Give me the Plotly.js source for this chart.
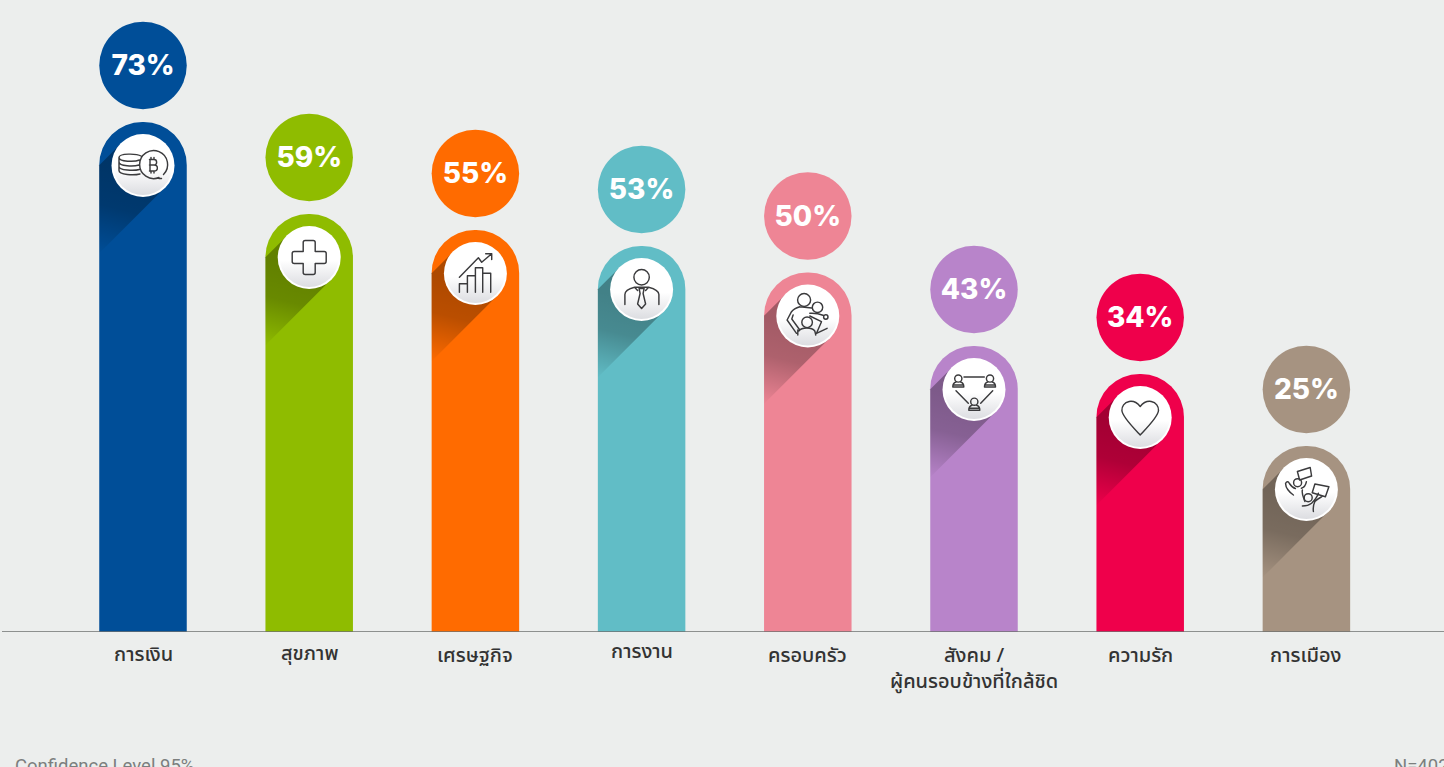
<!DOCTYPE html>
<html>
<head>
<meta charset="utf-8">
<script src="https://cdn.plot.ly/plotly-3.0.1.min.js"></script>
<style>html,body{margin:0;padding:0;background:#eceeed;overflow:hidden}#chart{width:1444px;height:767px}</style>
</head>
<body>
<div id="chart"></div>
<script>
const categories = ['การเงิน','สุขภาพ','เศรษฐกิจ','การงาน','ครอบครัว','สังคม /<br>ผู้คนรอบข้างที่ใกล้ชิด','ความรัก','การเมือง'];
const percentLabels = ['73%','59%','55%','53%','50%','43%','34%','25%'];
const barHeights = [510,418,402,386,359.5,286,258,186];
const barColors = ['#004e98','#8fbc00','#ff6b00','#61bdc6','#ee8595','#b884ca','#ef004b','#a69381'];
const footerLeft = 'Confidence Level 95%';
const footerRight = 'N=402';

const labelOffsets = [6,5,7,3,7,7,7,7];
const TH_FONT = 'Noto Sans, Noto Sans Thai, Loma, Garuda, Liberation Sans, DejaVu Sans, sans-serif';

const person = (x,y)=>`<circle cx="${x}" cy="${y}" r="3.6"/><path d="M${x-2.3} ${y+3.5}C${x-4} ${y+4} ${x-5.5} ${y+5} ${x-5.5} ${y+8.5}H${x+5.5}C${x+5.5} ${y+5} ${x+4} ${y+4} ${x+2.3} ${y+3.5}M${x-5} ${y+6.5}H${x+5}"/>`;
const icons = [
 `<path d="M-2 -9.5C-6 -12 -24 -12.5 -24 -8V5C-24 9.5 -9 10 -3 8.5M-24 -8C-24 -3.5 -8 -3.5 -3.5 -5.5M-24 -3.5C-24 1 -9 1 -4 -0.5M-24 1C-24 5 -9 5.5 -3.5 4M20.5 9A14 14 0 1 0 16 12M18.5 13A14 14 0 0 1 14.5 12.5M6.5 -6H11C14.5 -6 14.5 -0.5 11 -0.5H6.5M11 -0.5C15.5 -0.5 15.5 5.5 11 5.5H6.5M7 -6V5.5M8 -8V-6M11 -8V-6M8 5.5V7.5M11 5.5V7.5"/>`,
 `<path d="M-6 -15Q-6 -17 -4 -17H4Q6 -17 6 -15V-6H15Q17 -6 17 -4V4Q17 6 15 6H6V15Q6 17 4 17H-4Q-6 17 -6 15V6H-15Q-17 6 -17 4V-4Q-17 -6 -15 -6H-6Z"/>`,
 `<path d="M-16 3.7L3 -15.7L6.3 -11.3L16.3 -19.7M10.3 -19.7H16.3V-14M-16 18.7V10.3H-8V2.3H0V-5.7H7.3V-0.3H15.3V18.7M-8 10.3V18.7M0 2.3V18.7M7.3 -0.3V18.7"/>`,
 `<circle cx="0" cy="-12.3" r="7.7"/><path d="M-16.7 15V5C-16.7 1 -12 -1 -7 -2.3L-4 1M17.3 15V5C17.3 1 12 -1 7 -2.3L4 1M-7 -2.3H7M-2.5 -1H2.5L1.5 4L4 14.5L0 19L-4 14.5L-1.5 4Z"/>`,
 `<circle cx="-3.7" cy="-16" r="6.5"/><circle cx="9.7" cy="-8.7" r="5.2"/><circle cx="-0.7" cy="6.3" r="5.3"/><circle cx="18" cy="1" r="2.2"/><path d="M-8 -9.3C-12 -8 -15 -6 -16.3 -4.3L-20.7 4L-11.3 17.3M-14.7 -1L-16 3L-8 14M-8 -9.3L4 -8M2 -2.7C6 -3 12 -2 16 -0.5M2 0L13.7 5.7L8.7 17.3L19.3 12.3M-9 15C-6 11 4 11 7 15M-10 14L-10 19M7 15L8 19"/>`,
 person(-15.7,-11)+person(16,-11)+person(0.3,12.2)+`<path d="M-10 -12.5H10.3M-18 1.2L-5.7 13.8M18.7 1.2L6.7 13.8"/>`,
 `<path d="M0 -11C-4 -16 -8 -16.5 -11 -16C-16 -15 -18.5 -11 -18.3 -7C-18 -1 -8 9 0 17.5C8 9 18 -1 18.3 -7C18.5 -11 16 -15 11 -16C8 -16.5 4 -16 0 -11Z"/>`,
 `<path d="M-9 -18L3.8 -22L5.2 -13.5L-6.8 -9.5ZM8.5 -5.5L22.5 -2.8L19 7.2L5.8 3.2Z"/><circle cx="-8.8" cy="-6.8" r="4"/><circle cx="1.8" cy="8.2" r="4"/><path d="M-13 5.5C-17 3 -21 -2 -20.8 -6.2C-19.5 -8.5 -18 -8 -17 -6C-15 -3 -13 -1.5 -11 -1M-5 -1.2C-2 -2 -0.5 -5 0 -7.8M-4 0.5C-5 4 -3 8 -1.5 12M-4 16.5C0 16.5 3 15.5 5.2 13.8C8 11 11 7 12 3.8M7 22C6.5 18 7 15 8.5 12C11 9.5 14 8 15.7 7"/>`
];
function overlay(i){
  const id='s'+i;
  const svg=`<svg xmlns="http://www.w3.org/2000/svg" width="200" height="200" viewBox="-100 -100 200 200">
<defs>
<linearGradient id="${id}" gradientUnits="userSpaceOnUse" x1="-5" y1="10" x2="-25" y2="90"><stop offset="0" stop-color="#000" stop-opacity="0.32"/><stop offset="0.45" stop-color="#000" stop-opacity="0.27"/><stop offset="1" stop-color="#000" stop-opacity="0.02"/></linearGradient>
<linearGradient id="g${i}" x1="0" y1="0" x2="0" y2="1"><stop offset="0" stop-color="#fff"/><stop offset="0.55" stop-color="#fff"/><stop offset="1" stop-color="#dcdde1"/></linearGradient>
</defs>
<path d="M-22 -22L-43.75 -0.25V87.75L22 22Z" fill="url(#${id})"/>
<circle r="31.5" fill="#fff"/><circle r="29.5" fill="url(#g${i})"/>
<g fill="none" stroke="#3b3b3d" stroke-width="1.45" stroke-linejoin="round" stroke-linecap="round">${icons[i]}</g>
</svg>`;
  return 'data:image/svg+xml;charset=utf-8,'+encodeURIComponent(svg);
}
const PLOT_TOP = 632, STEP = 166.2, BADGE_GAP = 56.5, ICON_GAP = 43.5, TEXT_DROP = 2.5;
const xMin = (2-143)/STEP, xMax = (1444-143)/STEP;

const bars = {type:'bar',x:categories,y:barHeights,width:87.5/STEP,
  marker:{color:barColors,cornerradius:43.75,line:{width:0}},hoverinfo:'skip',cliponaxis:false};
const badges = {type:'scatter',mode:'markers',x:categories,
  y:barHeights.map(h=>h+BADGE_GAP),
  marker:{size:87.5,color:barColors,line:{width:0}},hoverinfo:'skip',cliponaxis:false};
const badgeText = {type:'scatter',mode:'text',x:categories,
  y:barHeights.map(h=>h+BADGE_GAP-TEXT_DROP),text:percentLabels,textposition:'middle center',
  textfont:{family:'Inter, Lato, sans-serif',size:28,color:'#fff',weight:800},hoverinfo:'skip',cliponaxis:false};

const layout = {
  width:1444,height:767,margin:{l:2,r:0,t:0,b:135},
  paper_bgcolor:'#eceeed',plot_bgcolor:'#eceeed',showlegend:false,
  xaxis:{type:'category',range:[xMin,xMax],showgrid:false,zeroline:false,showticklabels:false,ticks:'',showline:false,fixedrange:true},
  yaxis:{range:[0,PLOT_TOP],showgrid:false,zeroline:false,showticklabels:false,ticks:'',fixedrange:true,showline:false},
  shapes:[{type:'line',xref:'paper',yref:'y',x0:0,x1:1,y0:0,y1:0,layer:'above',line:{color:'#6e706f',width:1.5}}],
  images:barHeights.map((h,i)=>({source:overlay(i),xref:'x',yref:'y',x:i,y:h-ICON_GAP,sizex:200/STEP,sizey:200,xanchor:'center',yanchor:'middle',sizing:'stretch',layer:'above'})),
  annotations:categories.map((c,i)=>({text:c,x:c,xref:'x',y:0,yref:'paper',yanchor:'top',xanchor:'center',yshift:-labelOffsets[i],showarrow:false,align:'center',
      font:{family:TH_FONT,size:20,color:'#333333',weight:500}})).concat([
    {text:footerLeft,xref:'paper',yref:'paper',x:0,xshift:11,y:0,yshift:-121,xanchor:'left',yanchor:'top',showarrow:false,font:{family:'Roboto, sans-serif',size:18.5,color:'#7c7f7e'}},
    {text:footerRight,xref:'paper',yref:'paper',x:1,xshift:-52,y:0,yshift:-121,xanchor:'left',yanchor:'top',showarrow:false,font:{family:'Roboto, sans-serif',size:18.5,color:'#7c7f7e'}}
  ])
};
Plotly.newPlot('chart',[bars,badges,badgeText],layout,{displayModeBar:false,staticPlot:true});
</script>
</body>
</html>
